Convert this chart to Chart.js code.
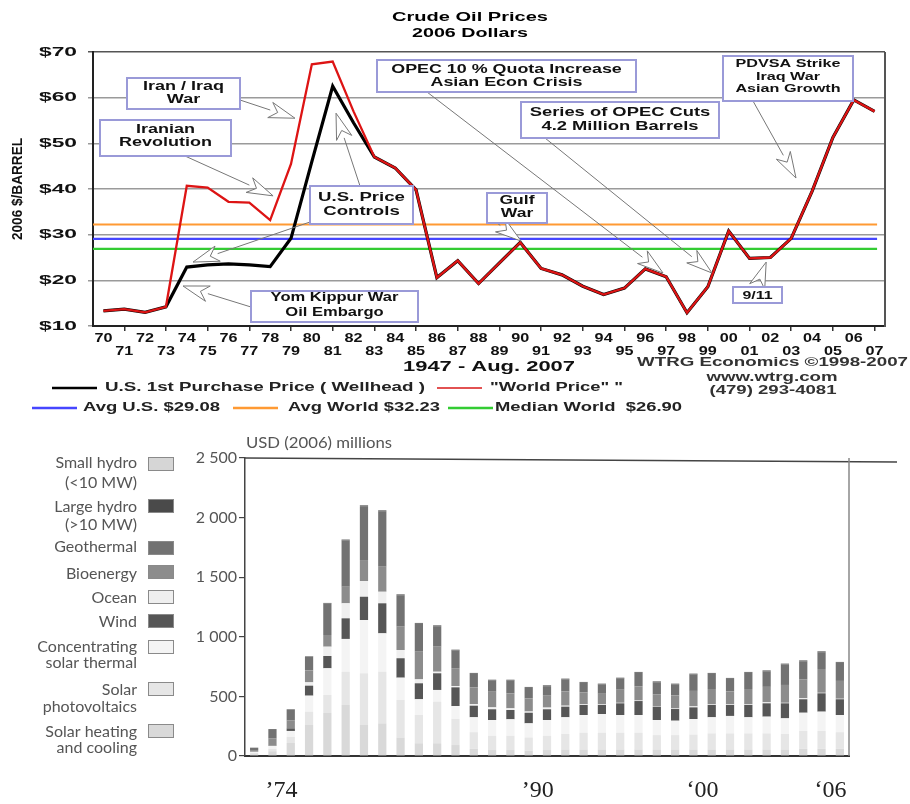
<!DOCTYPE html>
<html><head><meta charset="utf-8">
<script src="https://cdn.jsdelivr.net/npm/chart.js@4.4.1/dist/chart.umd.min.js"></script>
<style>
html,body{margin:0;padding:0;background:#fff;}
#wrap{position:relative;width:910px;height:804px;overflow:hidden;background:#fff;}
#c1{position:absolute;left:0;top:0;}
#c2{position:absolute;left:0;top:430px;}
</style></head><body>
<div id="wrap">
<canvas id="c1" width="910" height="430"></canvas>
<canvas id="c2" width="910" height="374"></canvas>
</div>
<script>
// ---------- TOP CHART DATA ----------
const oilYears = ['70','71','72','73','74','75','76','77','78','79','80','81','82','83','84','85','86','87','88','89','90','91','92','93','94','95','96','97','98','99','00','01','02','03','04','05','06','07'];
const worldPrice = [13.3,13.7,13.0,14.2,40.7,40.3,37.2,37.0,33.2,45.5,67.3,67.9,57.0,47.0,44.6,39.8,20.6,24.3,19.3,23.8,28.3,22.6,21.2,18.7,16.9,18.3,22.5,20.8,12.9,18.6,30.8,24.8,25.0,29.2,39.5,51.3,59.5,57.0];
const usWellhead = [13.3,13.7,13.0,14.2,22.9,23.4,23.6,23.4,23.0,29.2,46.0,62.5,54.5,47.0,44.6,39.8,20.6,24.3,19.3,23.8,28.3,22.6,21.2,18.7,16.9,18.3,22.5,20.8,12.9,18.6,30.8,24.8,25.0,29.2,39.5,51.3,59.5,57.0];
const avgUS = 29.08;
const avgWorld = 32.23;
const medianWorld = 26.90;
const priceTicks = [10,20,30,40,50,60,70];
const priceTickText = ['$10','$20','$30','$40','$50','$60','$70'];

// ---------- BOTTOM CHART DATA ----------
const rdYears = [1974,1975,1976,1977,1978,1979,1980,1981,1982,1983,1984,1985,1986,1987,1988,1989,1990,1991,1992,1993,1994,1995,1996,1997,1998,1999,2000,2001,2002,2003,2004,2005,2006];
const xTickText = ['','\u201974','','','','','','','','','','','','','','\u201990','','','','','','','','','\u201800','','','','','','','\u201806',''];
const usdTicks = [0,500,1000,1500,2000,2500];
const usdTickText = ['0','500','1 000','1 500','2 000','2 500'];
const solarHeating = [15,40,110,260,361,428,260,274,155,107,107,92,60,50,50,45,50,55,55,55,55,55,55,55,55,55,55,55,55,55,60,60,60];
const solarPV      = [10,20,50,112,151,279,434,433,315,237,349,220,140,120,120,110,120,130,140,140,140,140,120,120,125,135,135,135,135,130,150,150,140];
const solarThermal = [10,26,50,134,224,275,447,322,187,132,98,107,125,132,138,119,132,140,149,157,149,149,127,121,130,135,146,135,140,131,153,162,144];
const wind         = [0,6,22,84,103,173,195,252,163,134,140,157,97,90,78,89,90,89,84,76,98,117,112,98,98,103,92,103,112,126,113,154,132];
const ocean        = [0,0,0,28,78,126,132,97,69,33,13,11,14,16,14,10,14,8,5,4,4,4,4,4,8,4,4,4,8,4,8,4,4];
const bioenergy    = [15,54,65,100,98,139,176,210,196,232,210,150,140,131,125,110,100,120,100,90,110,120,100,110,130,130,110,130,130,150,160,200,150];
const geothermal   = [20,80,95,116,263,390,452,466,264,233,172,148,113,94,108,88,80,100,80,78,94,112,101,92,138,127,105,135,131,172,151,141,151];
const largeHydro   = [0,0,0,3,5,5,6,6,6,6,6,6,6,6,6,6,6,6,6,6,6,6,6,6,6,6,6,6,6,6,6,6,6];
const smallHydro   = [0,0,0,2,3,3,4,4,4,4,4,4,4,4,4,4,4,4,4,4,4,4,4,4,4,4,4,4,4,4,4,4,4];

// ---------- helpers ----------
function txt(ctx, s, x, y, o) {
  ctx.save();
  ctx.font = o.font;
  ctx.fillStyle = o.color || '#000';
  ctx.textBaseline = 'middle';
  ctx.textAlign = 'left';
  const m = ctx.measureText(s).width;
  const sx = o.w ? o.w / m : (o.sx || 1);
  const w = m * sx;
  let left = x;
  if (o.align === 'center') left = x - w / 2;
  else if (o.align === 'right') left = x - w;
  ctx.translate(left, y);
  ctx.scale(sx, 1);
  ctx.fillText(s, 0, 0);
  ctx.restore();
}
function arrow(ctx, x1, y1, x2, y2) {
  const a = Math.atan2(y2 - y1, x2 - x1);
  const L = 26, W = 8;
  const c = Math.cos(a), s = Math.sin(a);
  const bx = x2 - L * c, by = y2 - L * s;
  ctx.save();
  ctx.strokeStyle = '#777';
  ctx.lineWidth = 1;
  ctx.beginPath(); ctx.moveTo(x1, y1); ctx.lineTo(bx, by); ctx.stroke();
  ctx.beginPath();
  ctx.moveTo(x2, y2);
  ctx.lineTo(bx - s * W, by + c * W);
  ctx.lineTo(x2 - L * 0.7 * c, y2 - L * 0.7 * s);
  ctx.lineTo(bx + s * W, by - c * W);
  ctx.closePath();
  ctx.fillStyle = '#fff';
  ctx.fill();
  ctx.stroke();
  ctx.restore();
}

// annotation boxes (layout) with arrow tips given in data units [year index, price]
const notes = [
  {box:[127,78,113,31], lines:['Iran / Iraq','War'], ly:[87,100], sx:1.5, size:12, arrows:[{from:[240,100], tip:[9.19,55.5]}]},
  {box:[100,120,131,36], lines:['Iranian','Revolution'], ly:[130,143], sx:1.5, size:12, arrows:[{from:[185,156], tip:[8.14,38.5]}]},
  {box:[310,186,103,38], lines:['U.S. Price','Controls'], ly:[198,212], sx:1.55, size:12, arrows:[{from:[360,186], tip:[11.16,56.6]},{from:[310,222], tip:[4.3,24.0]}]},
  {box:[251,291,167,31], lines:['Yom Kippur War','Oil Embargo'], ly:[298,313], sx:1.38, size:12, arrows:[{from:[251,307], tip:[3.82,18.76]}]},
  {box:[377,60,259,32], lines:['OPEC 10 % Quota Increase','Asian Econ Crisis'], ly:[70,83], sx:1.49, size:12, arrows:[{from:[427,92], tip:[26.85,21.6]}]},
  {box:[521,102,198,36], lines:['Series of OPEC Cuts','4.2 Million Barrels'], ly:[113,127], sx:1.53, size:12, arrows:[{from:[545,138], tip:[29.2,21.6]}]},
  {box:[487,193,60,30], lines:['Gulf','War'], ly:[201,214], sx:1.46, size:12, arrows:[{from:[497,223], tip:[20.04,28.6]}]},
  {box:[733,287,49,16], lines:['9/11'], ly:[295.5], sx:1.45, size:11, arrows:[{from:[757,287], tip:[31.8,24.0]}]},
  {box:[723,56,130,45], lines:['PDVSA Strike','Iraq War','Asian Growth'], ly:[64,77,89], sx:1.47, size:11, arrows:[{from:[753,101], tip:[33.23,42.4]}]}
];

const topDecor = {
  id: 'topDecor',
  afterDatasetsDraw(chart) {
    const ctx = chart.ctx;
    const xs = chart.scales.x, ys = chart.scales.y;
    const x0 = xs.getPixelForValue(0), dx = xs.getPixelForValue(1) - x0;
    notes.forEach(n => {
      n.arrows.forEach(a => {
        const tx = x0 + a.tip[0] * dx, ty = ys.getPixelForValue(a.tip[1]);
        arrow(ctx, a.from[0], a.from[1], tx, ty);
      });
    });
    notes.forEach(n => {
      const [bx, by, bw, bh] = n.box;
      ctx.save();
      ctx.fillStyle = '#fff';
      ctx.fillRect(bx, by, bw, bh);
      ctx.strokeStyle = '#9a9ad8';
      ctx.lineWidth = 2;
      ctx.strokeRect(bx, by, bw, bh);
      ctx.restore();
      n.lines.forEach((l, i) => txt(ctx, l, bx + bw / 2, n.ly[i], {font: 'bold ' + n.size + 'px "Liberation Sans"', sx: n.sx, align: 'center', color: '#111'}));
    });
  },
  afterDraw(chart) {
    const ctx = chart.ctx;
    const xs = chart.scales.x, ys = chart.scales.y;
    const ca = chart.chartArea;
    ctx.save();
    ctx.strokeStyle = '#555'; ctx.lineWidth = 2;
    ctx.beginPath(); ctx.moveTo(ca.right, ca.top); ctx.lineTo(ca.right, ca.bottom + 1); ctx.stroke();
    ctx.restore();
    txt(ctx, 'Crude Oil Prices', 470, 17, {font: 'bold 13px "Liberation Sans"', w: 156, align: 'center'});
    txt(ctx, '2006 Dollars', 470, 33, {font: 'bold 13px "Liberation Sans"', w: 116, align: 'center'});
    ctx.save(); ctx.font = 'bold 13px "Liberation Sans"';
    const ysx = 38 / ctx.measureText('$70').width; ctx.restore();
    priceTicks.forEach((v, i) => txt(ctx, priceTickText[i], 77, ys.getPixelForValue(v), {font: 'bold 13px "Liberation Sans"', sx: ysx, align: 'right', color: '#111'}));
    oilYears.forEach((lab, i) => {
      const x = xs.getPixelForValue(i);
      txt(ctx, lab, x, i % 2 === 0 ? 339 : 352, {font: 'bold 12px "Liberation Sans"', sx: 1.35, align: 'center', color: '#111'});
    });
    ctx.save();
    ctx.translate(18, 189); ctx.rotate(-Math.PI / 2);
    ctx.font = 'bold 15px "Liberation Sans"';
    const m = ctx.measureText('2006 $/BARREL').width;
    ctx.scale(102 / m, 1);
    ctx.textAlign = 'center'; ctx.textBaseline = 'middle'; ctx.fillStyle = '#111';
    ctx.fillText('2006 $/BARREL', 0, 0);
    ctx.restore();
    txt(ctx, '1947 - Aug. 2007', 489, 367, {font: 'bold 14px "Liberation Sans"', w: 172, align: 'center', color: '#111'});
    txt(ctx, 'WTRG Economics \u00A91998-2007', 637, 363, {font: 'bold 12px "Liberation Sans"', w: 271, align: 'left', color: '#333'});
    txt(ctx, 'www.wtrg.com', 772, 378, {font: 'bold 12px "Liberation Sans"', w: 131, align: 'center', color: '#333'});
    txt(ctx, '(479) 293-4081', 773, 391, {font: 'bold 12px "Liberation Sans"', w: 127, align: 'center', color: '#333'});
    const seg = (x1, x2, y, col, lw) => { ctx.save(); ctx.strokeStyle = col; ctx.lineWidth = lw; ctx.beginPath(); ctx.moveTo(x1, y); ctx.lineTo(x2, y); ctx.stroke(); ctx.restore(); };
    seg(52, 97, 388, '#000', 2.5);
    txt(ctx, 'U.S. 1st Purchase Price ( Wellhead )', 105, 388, {font: 'bold 12px "Liberation Sans"', w: 320, color: '#222'});
    seg(437, 482, 388, '#d81818', 1.6);
    txt(ctx, '"World Price" "', 490, 388, {font: 'bold 12px "Liberation Sans"', w: 133, color: '#222'});
    seg(32, 77, 408, '#4646ff', 2.5);
    txt(ctx, 'Avg U.S. $29.08', 83, 408, {font: 'bold 12px "Liberation Sans"', w: 137, color: '#222'});
    seg(233, 278, 408, '#ff9a33', 2.5);
    txt(ctx, 'Avg World $32.23', 288, 408, {font: 'bold 12px "Liberation Sans"', w: 152, color: '#222'});
    seg(448, 493, 408, '#33cc33', 2.5);
    txt(ctx, 'Median World  $26.90', 495, 408, {font: 'bold 12px "Liberation Sans"', w: 187, color: '#222'});
  }
};

new Chart(document.getElementById('c1'), {
  type: 'line',
  data: {
    labels: oilYears,
    datasets: [
      {label: '"World Price"', data: worldPrice, borderColor: '#dd1414', borderWidth: 2.3, pointRadius: 0, tension: 0},
      {label: 'U.S. 1st Purchase Price ( Wellhead )', data: usWellhead, borderColor: '#000', borderWidth: 3.2, pointRadius: 0, tension: 0},
      {label: 'Avg World', data: [{x: 0, y: avgWorld}, {x: 0.99, y: avgWorld}], xAxisID: 'xr', borderColor: '#ff9a33', borderWidth: 2.2, pointRadius: 0},
      {label: 'Avg U.S.', data: [{x: 0, y: avgUS}, {x: 0.99, y: avgUS}], xAxisID: 'xr', borderColor: '#4646ff', borderWidth: 2.2, pointRadius: 0},
      {label: 'Median World', data: [{x: 0, y: medianWorld}, {x: 0.99, y: medianWorld}], xAxisID: 'xr', borderColor: '#33cc33', borderWidth: 2.2, pointRadius: 0}
    ]
  },
  options: {
    responsive: false, animation: false, devicePixelRatio: 1,
    layout: {padding: {top: 52, right: 25, bottom: 64, left: 0}},
    plugins: {legend: {display: false}, tooltip: {enabled: false}, title: {display: false}},
    scales: {
      x: {
        type: 'category', offset: true,
        ticks: {display: false},
        grid: {drawOnChartArea: false, drawTicks: true, tickLength: 5, lineWidth: 1.5,
               color: c => (c.index % 2 === 1 ? '#333' : 'rgba(0,0,0,0)')},
        border: {color: '#222', width: 2},
        afterFit: s => { s.height = 40; }
      },
      xr: {type: 'linear', display: false, min: 0, max: 1},
      y: {
        min: 10, max: 70,
        ticks: {display: false, stepSize: 10},
        grid: {color: c => (c.tick && c.tick.value === 70 ? '#555' : '#9a9a9a'), lineWidth: 1.5, tickLength: 5},
        border: {color: '#222', width: 2},
        afterFit: s => { s.width = 93; }
      }
    }
  },
  plugins: [topDecor]
});

// ---------- BOTTOM CHART ----------
const rdColors = {
  smallHydro: '#d6d6d6', largeHydro: '#4a4a4a', geothermal: '#727272', bioenergy: '#8c8c8c',
  ocean: '#efefef', wind: '#565656', solarThermal: '#f4f4f4', solarPV: '#e6e6e6', solarHeating: '#d9d9d9'
};
const legendItems = [
  {lines: ['Small hydro', '(<10 MW)'], ly: [463, 483], sy: 457, color: rdColors.smallHydro},
  {lines: ['Large hydro', '(>10 MW)'], ly: [507, 525], sy: 499, color: rdColors.largeHydro},
  {lines: ['Geothermal'], ly: [547], sy: 541, color: rdColors.geothermal},
  {lines: ['Bioenergy'], ly: [574], sy: 565, color: rdColors.bioenergy},
  {lines: ['Ocean'], ly: [598], sy: 590, color: rdColors.ocean},
  {lines: ['Wind'], ly: [622], sy: 614, color: rdColors.wind},
  {lines: ['Concentrating', 'solar thermal'], ly: [647, 663], sy: 640, color: rdColors.solarThermal},
  {lines: ['Solar', 'photovoltaics'], ly: [690, 707], sy: 682, color: rdColors.solarPV},
  {lines: ['Solar heating', 'and cooling'], ly: [732, 748], sy: 724, color: rdColors.solarHeating}
];
const bottomDecor = {
  id: 'bottomDecor',
  afterDraw(chart) {
    const ctx = chart.ctx, ca = chart.chartArea;
    const off = 430;
    ctx.save();
    ctx.strokeStyle = '#444'; ctx.lineWidth = 1.5;
    ctx.beginPath(); ctx.moveTo(ca.left, ca.top); ctx.lineTo(897, ca.top + 4); ctx.stroke();
    ctx.strokeStyle = '#888';
    ctx.beginPath(); ctx.moveTo(ca.right, ca.top); ctx.lineTo(ca.right, ca.bottom); ctx.stroke();
    ctx.restore();
    txt(ctx, 'USD (2006) millions', 246, 443 - off, {font: '15px Lato', color: '#555', w: 146});
    legendItems.forEach(it => {
      ctx.save();
      ctx.fillStyle = it.color;
      ctx.fillRect(148, it.sy - off, 25, 13);
      ctx.strokeStyle = '#8a8a8a'; ctx.lineWidth = 1;
      ctx.strokeRect(148.5, it.sy - off + 0.5, 25, 13);
      ctx.restore();
      it.lines.forEach((l, i) => txt(ctx, l, 137, it.ly[i] - off, {font: '16px Lato', color: '#555', align: 'right'}));
    });
  }
};
const mk = (label, data, color) => ({label, data, backgroundColor: color, borderWidth: 0, barPercentage: 0.45, categoryPercentage: 1.0});
new Chart(document.getElementById('c2'), {
  type: 'bar',
  data: {
    labels: rdYears,
    datasets: [
      mk('Solar heating and cooling', solarHeating, rdColors.solarHeating),
      mk('Solar photovoltaics', solarPV, rdColors.solarPV),
      mk('Concentrating solar thermal', solarThermal, rdColors.solarThermal),
      mk('Wind', wind, rdColors.wind),
      mk('Ocean', ocean, rdColors.ocean),
      mk('Bioenergy', bioenergy, rdColors.bioenergy),
      mk('Geothermal', geothermal, rdColors.geothermal),
      mk('Large hydro (>10 MW)', largeHydro, rdColors.largeHydro),
      mk('Small hydro (<10 MW)', smallHydro, rdColors.smallHydro)
    ]
  },
  options: {
    responsive: false, animation: false, devicePixelRatio: 1,
    layout: {padding: {top: 28, right: 61, bottom: 0, left: 0}},
    plugins: {legend: {display: false}, tooltip: {enabled: false}},
    scales: {
      x: {
        stacked: true, offset: true,
        grid: {display: false, drawTicks: false},
        border: {color: '#333', width: 2},
        ticks: {autoSkip: false, maxRotation: 0, labelOffset: 9, padding: 20,
                font: {family: '"Liberation Serif"', size: 24}, color: '#222',
                callback: (v, i) => xTickText[i]},
        afterFit: s => { s.height = 48; }
      },
      y: {
        stacked: true, min: 0, max: 2500,
        ticks: {stepSize: 500, padding: 2, font: {family: 'Lato', size: 16}, color: '#555',
                callback: v => usdTickText[usdTicks.indexOf(v)]},
        grid: {drawOnChartArea: false, drawTicks: true, tickLength: 6, color: '#444', lineWidth: 1.2},
        border: {color: '#444', width: 1.5},
        afterFit: s => { s.width = 245; }
      }
    }
  },
  plugins: [bottomDecor]
});
</script>
</body></html>
